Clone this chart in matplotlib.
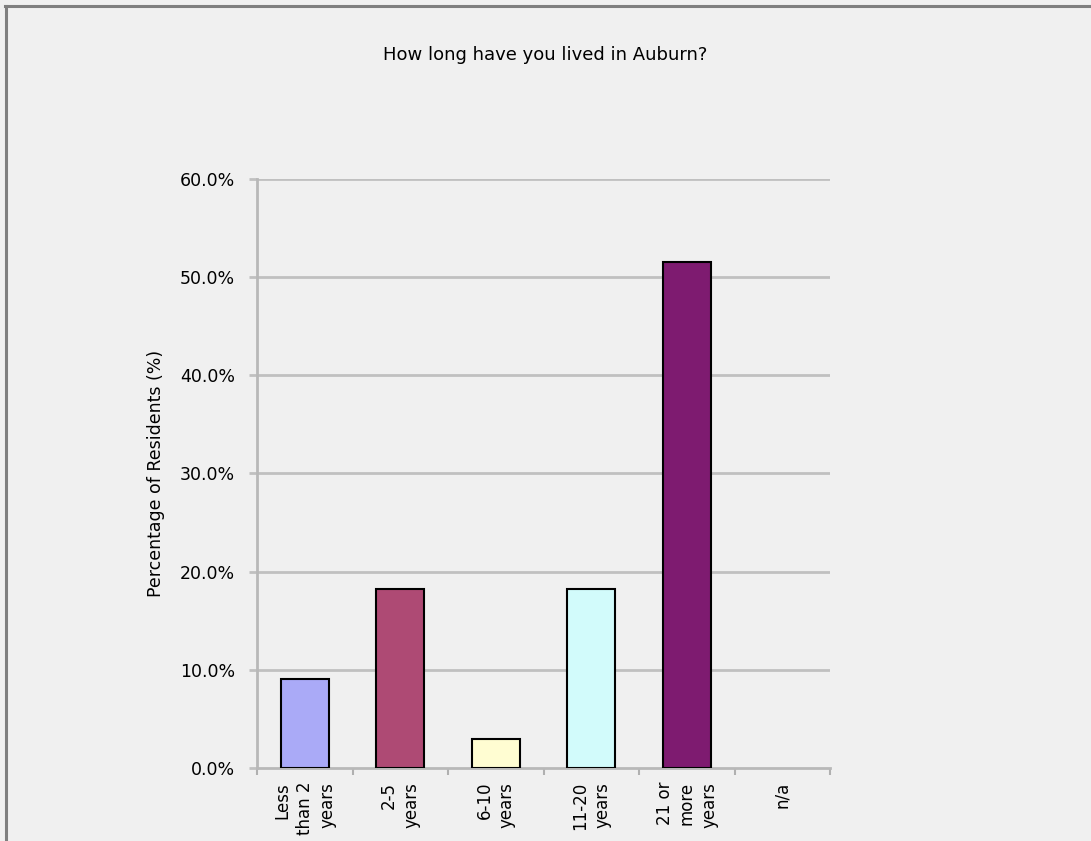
import matplotlib
matplotlib.use("Agg")
import matplotlib.pyplot as plt
from matplotlib.lines import Line2D
from matplotlib.ticker import FuncFormatter, MultipleLocator

categories = ["Less\nthan 2\nyears", "2-5\nyears", "6-10\nyears", "11-20\nyears", "21 or\nmore\nyears", "n/a"]
percent = [9.1, 18.2, 3.0, 18.2, 51.5, 0.0]
colors = ["#aaaaf7", "#ae4a74", "#fffdd2", "#d2fbfb", "#7e1b70", "#ffffff"]

plt.rcParams['font.family'] = ['DejaVu Sans']

bg = "#f0f0f0"
fig = plt.figure(figsize=(10.91, 8.41), dpi=100, facecolor=bg)
ax = fig.add_axes([0.2356, 0.0868, 0.5252, 0.7004], facecolor=bg)

x = list(range(len(categories)))
bx = [i for i, v in zip(x, percent) if v > 0]
bv = [v for v in percent if v > 0]
bc = [c for c, v in zip(colors, percent) if v > 0]
ax.bar(bx, bv, width=0.5, color=bc, edgecolor="black", linewidth=1.5, zorder=3)

ax.set_xlim(-0.5, len(categories) - 0.5)
ax.set_ylim(0, 60)
ax.yaxis.set_major_locator(MultipleLocator(10))
ax.yaxis.set_major_formatter(FuncFormatter(lambda v, p: f"{v:.1f}%"))
for v in range(10, 61, 10):
    ax.axhline(v, color="#c0c0c0", lw=2, zorder=1)

ax.set_xticks([i - 0.5 for i in range(len(categories) + 1)], minor=False)
ax.set_xticklabels([])
ax.set_xticks(x, minor=True)
ax.set_xticklabels(categories, minor=True, rotation=90, fontsize=12,
                   va="top", ha="center", multialignment="right", linespacing=1.3)
ax.tick_params(axis="x", which="minor", length=0, pad=10)
ax.tick_params(axis="x", which="major", length=5, color="#b0b0b0", width=1.5)
ax.tick_params(axis="y", length=6, color="#c0c0c0", width=2, labelsize=12.5, pad=10)

for s in ["top", "right"]:
    ax.spines[s].set_visible(False)
for s in ["left", "bottom"]:
    ax.spines[s].set_color("#b8b8b8")
    ax.spines[s].set_linewidth(2)

ax.set_ylabel("Percentage of Residents (%)", fontsize=12.5)
ax.yaxis.set_label_coords(-0.16, 0.5)

fig.text(0.5, 0.935, "How long have you lived in Auburn?", ha="center", va="center", fontsize=13)

# outer frame (top and left edges only)
fig.add_artist(Line2D([0.005, 1.0], [0.9929, 0.9929], transform=fig.transFigure, color="#7f7f7f", lw=2.2))
fig.add_artist(Line2D([0.0055, 0.0055], [0.0, 0.9929], transform=fig.transFigure, color="#7f7f7f", lw=2.2))

fig.savefig("out.png", dpi=100, facecolor=bg)
